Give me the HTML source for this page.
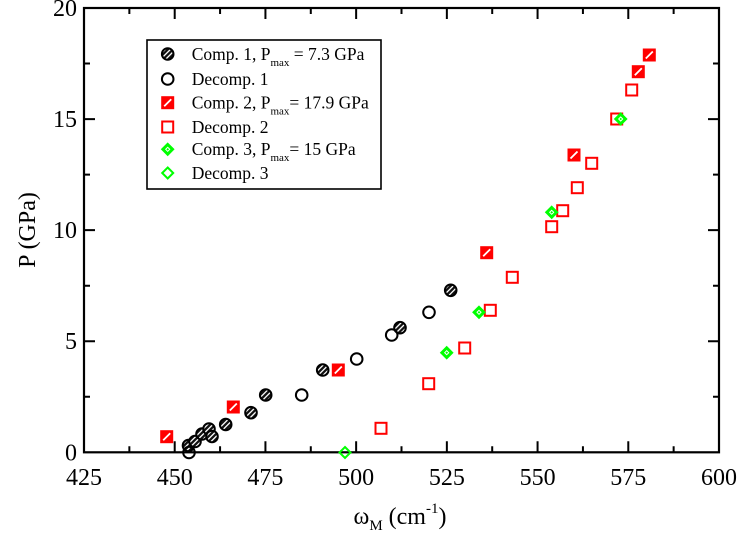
<!DOCTYPE html>
<html>
<head>
<meta charset="utf-8">
<style>
  html, body { margin:0; padding:0; background:#fff; }
  svg { display:block; }
  text { font-family: "Liberation Serif", "DejaVu Serif", serif; fill:#000; }
</style>
</head>
<body>
<svg width="756" height="547" viewBox="0 0 756 547" xmlns="http://www.w3.org/2000/svg">
  <defs>
    <pattern id="hc" patternUnits="userSpaceOnUse" width="3.6" height="3.6" patternTransform="rotate(45)">
      <rect x="0" y="0" width="3.6" height="3.6" fill="#111"/>
      <rect x="0" y="0" width="1.3" height="3.6" fill="#fff"/>
    </pattern>
  </defs>

  <!-- frame -->
  <rect x="84" y="8" width="635" height="444.3" fill="none" stroke="#000" stroke-width="2.2"/>

  <!-- ticks -->
  <g stroke="#000" stroke-width="2" fill="none">
    <path d="M174.71 452.3V441.3M265.43 452.3V441.3M356.14 452.3V441.3M446.86 452.3V441.3M537.57 452.3V441.3M628.29 452.3V441.3"/>
    <path d="M129.36 452.3V446.3M220.07 452.3V446.3M310.79 452.3V446.3M401.5 452.3V446.3M492.21 452.3V446.3M582.93 452.3V446.3M673.64 452.3V446.3"/>
    <path d="M174.71 8V19M265.43 8V19M356.14 8V19M446.86 8V19M537.57 8V19M628.29 8V19"/>
    <path d="M129.36 8V14M220.07 8V14M310.79 8V14M401.5 8V14M492.21 8V14M582.93 8V14M673.64 8V14"/>
    <path d="M84 119.08H95M84 230.15H95M84 341.23H95"/>
    <path d="M84 63.54H90M84 174.61H90M84 285.69H90M84 396.76H90"/>
    <path d="M719 119.08H708M719 230.15H708M719 341.23H708"/>
    <path d="M719 63.54H713M719 174.61H713M719 285.69H713M719 396.76H713"/>
  </g>

  <!-- tick labels -->
  <g font-size="24" text-anchor="middle">
    <text x="84" y="485">425</text>
    <text x="174.71" y="485">450</text>
    <text x="265.43" y="485">475</text>
    <text x="356.14" y="485">500</text>
    <text x="446.86" y="485">525</text>
    <text x="537.57" y="485">550</text>
    <text x="628.29" y="485">575</text>
    <text x="719" y="485">600</text>
  </g>
  <g font-size="24" text-anchor="end">
    <text x="77" y="460.3">0</text>
    <text x="77" y="349.2">5</text>
    <text x="77" y="238.2">10</text>
    <text x="77" y="127.1">15</text>
    <text x="77" y="16">20</text>
  </g>

  <!-- axis titles -->
  <text transform="translate(35,230) rotate(-90)" font-size="24" text-anchor="middle">P (GPa)</text>
  <text x="400" y="524" font-size="24" text-anchor="middle">ω<tspan font-size="15" dy="6">M</tspan><tspan dy="-6"> (cm</tspan><tspan font-size="15" dy="-11">-1</tspan><tspan dy="11">)</tspan></text>

  <!-- Comp 1 hatched circles -->
  <g stroke="#000" stroke-width="2" fill="url(#hc)">
    <circle cx="188.5" cy="445.5" r="5.8"/>
    <circle cx="195" cy="441.5" r="5.8"/>
    <circle cx="202" cy="434" r="5.8"/>
    <circle cx="209" cy="429" r="5.8"/>
    <circle cx="212" cy="436.5" r="5.8"/>
    <circle cx="225.7" cy="424.5" r="5.8"/>
    <circle cx="251" cy="412.7" r="5.8"/>
    <circle cx="265.7" cy="395" r="5.8"/>
    <circle cx="322.7" cy="370" r="5.8"/>
    <circle cx="400" cy="327.7" r="5.8"/>
    <circle cx="450.7" cy="290.3" r="5.8"/>
  </g>
  <!-- Decomp 1 open circles -->
  <g stroke="#000" stroke-width="2" fill="none">
    <circle cx="189" cy="452.5" r="5.8"/>
    <circle cx="301.7" cy="395" r="5.8"/>
    <circle cx="356.7" cy="359" r="5.8"/>
    <circle cx="391.7" cy="335" r="5.8"/>
    <circle cx="429" cy="312.3" r="5.8"/>
  </g>
  <!-- Comp 2 hatched red squares -->
  <g stroke="#f00" stroke-width="2" fill="#f00">
    <rect x="161.2" y="431.2" width="11" height="11"/>
    <rect x="227.8" y="401.5" width="11" height="11"/>
    <rect x="332.8" y="364.5" width="11" height="11"/>
    <rect x="481.2" y="247.2" width="11" height="11"/>
    <rect x="568.5" y="149.5" width="11" height="11"/>
    <rect x="632.8" y="66.2" width="11" height="11"/>
    <rect x="643.8" y="49.5" width="11" height="11"/>
  </g>
  <g stroke="#fff" stroke-width="1.8">
    <path d="M163.2 440.2L170.2 433.2M229.8 410.5L236.8 403.5M334.8 373.5L341.8 366.5M483.2 256.2L490.2 249.2M570.5 158.5L577.5 151.5M634.8 75.2L641.8 68.2M645.8 58.5L652.8 51.5"/>
  </g>
  <!-- Decomp 2 open red squares -->
  <g stroke="#f00" stroke-width="2" fill="none">
    <rect x="375.5" y="422.8" width="11" height="11"/>
    <rect x="423.2" y="378.2" width="11" height="11"/>
    <rect x="459.2" y="342.5" width="11" height="11"/>
    <rect x="484.8" y="304.8" width="11" height="11"/>
    <rect x="506.8" y="271.8" width="11" height="11"/>
    <rect x="546.2" y="221.2" width="11" height="11"/>
    <rect x="557.2" y="205.2" width="11" height="11"/>
    <rect x="571.8" y="182.2" width="11" height="11"/>
    <rect x="586.2" y="157.8" width="11" height="11"/>
    <rect x="611.2" y="113.5" width="11" height="11"/>
    <rect x="626.2" y="84.5" width="11" height="11"/>
  </g>
  <!-- Comp 3 hatched green diamonds -->
  <g stroke="#0f0" stroke-width="2" fill="#0f0">
    <path d="M446.7 347.2L452.2 352.7L446.7 358.2L441.2 352.7Z"/>
    <path d="M479 306.8L484.5 312.3L479 317.8L473.5 312.3Z"/>
    <path d="M551.7 206.8L557.2 212.3L551.7 217.8L546.2 212.3Z"/>
    <path d="M620.7 113.5L626.2 119L620.7 124.5L615.2 119Z"/>
  </g>
  <g stroke="#fff" stroke-width="1" fill="none">
    <path d="M446.7 350.7L448.7 352.7L446.7 354.7L444.7 352.7Z"/>
    <path d="M479 310.3L481 312.3L479 314.3L477 312.3Z"/>
    <path d="M551.7 210.3L553.7 212.3L551.7 214.3L549.7 212.3Z"/>
    <path d="M620.7 117L622.7 119L620.7 121L618.7 119Z"/>
  </g>
  <!-- Decomp 3 open green diamond -->
  <path d="M345 447L350.5 452.5L345 458L339.5 452.5Z" stroke="#0f0" stroke-width="2" fill="none"/>

  <!-- legend -->
  <rect x="147" y="40" width="234" height="149" fill="#fff" stroke="#000" stroke-width="1.6"/>
  <circle cx="167.7" cy="54" r="5.8" stroke="#000" stroke-width="2" fill="url(#hc)"/>
  <circle cx="167.7" cy="79" r="5.8" stroke="#000" stroke-width="2" fill="none"/>
  <rect x="162.2" y="97.2" width="11" height="11" stroke="#f00" stroke-width="2" fill="#f00"/>
  <path d="M164.2 106.2L171.2 99.2" stroke="#fff" stroke-width="1.8"/>
  <rect x="162.2" y="121.5" width="11" height="11" stroke="#f00" stroke-width="2" fill="none"/>
  <path d="M167.7 143.8L173.2 149.3L167.7 154.8L162.2 149.3Z" stroke="#0f0" stroke-width="2" fill="#0f0"/>
  <path d="M167.7 147.3L169.7 149.3L167.7 151.3L165.7 149.3Z" stroke="#fff" stroke-width="1" fill="none"/>
  <path d="M167.7 167.5L173.2 173L167.7 178.5L162.2 173Z" stroke="#0f0" stroke-width="2" fill="none"/>

  <g font-size="17.5">
    <text x="191.7" y="60">Comp. 1, P<tspan font-size="11" dy="6">max</tspan><tspan dy="-6"> = 7.3 GPa</tspan></text>
    <text x="191.7" y="85">Decomp. 1</text>
    <text x="191.7" y="108.5">Comp. 2, P<tspan font-size="11" dy="6">max</tspan><tspan dy="-6">= 17.9 GPa</tspan></text>
    <text x="191.7" y="133">Decomp. 2</text>
    <text x="191.7" y="155">Comp. 3, P<tspan font-size="11" dy="6">max</tspan><tspan dy="-6">= 15 GPa</tspan></text>
    <text x="191.7" y="179">Decomp. 3</text>
  </g>
</svg>
</body>
</html>
